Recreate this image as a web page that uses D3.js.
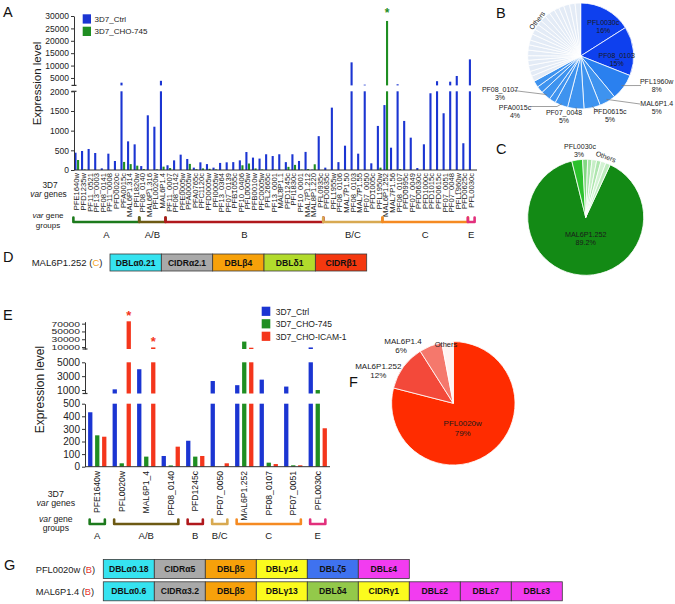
<!DOCTYPE html>
<html><head><meta charset="utf-8">
<script src="https://cdn.jsdelivr.net/npm/d3@7"></script>
<style>body{margin:0;background:#fff}svg{display:block;font-family:"Liberation Sans",Arial,Helvetica,sans-serif}</style>
</head><body><svg id="c" width="675" height="604"></svg>
<script>
// ---------------- DATA ----------------
const genesA = ["PFE1640w","PFD1235w","PF11_0521","PF13_0003","PF08_0141","PF11_0008","PFD0020c","PFA0015c","MAL6P1.314","PFI1820w","PF08_0140","MAL6P1.316","PFL0020w","MAL6P1.4","PF11_0007","PF08_0142","PFE0005w","PFA0005w","PFA0765c","PFC1120c","PFD0005w","PFI0005w","PF13_0364","PF07_0139","PFB1055c","PF10_0406","PFL0005w","PFB0010w","PFC0005w","PFL2665c","PF13_0001","MAL8P1.1","PFD1245c","PFI1830c","PF10_0001","MAL7P1.212","MAL8P1.220","PFL0935c","PFD0635c","PFL1955w","PF08_0106","MAL7P1.50","PF08_0103","MAL7P1.55","PF07_0050","PFD1005c","PFL1950w","MAL6P1.252","MAL7P1.56","PF08_0107","PFD0995c","PF07_0049","PFD0630c","PFD1000c","PFD1015c","PFD0615c","PF07_0051","PF07_0048","PFL1960w","PFD0625c","PFL0030c"];
const ctrlA = [440,483,534,432,42,415,229,3100,728,652, 100,1390,1100,3850, 120,245,390,280,60,195,150,60,180,195,200,245,457,315,290,400,355,400,200,400,230,460,10,860, 60,1585,200,618,11300,415,2300,170,1120, 1650,567,2450,1247,822,50,653,1950,3700,1442,3500,5800,680, 12500];
const cho745A = [254,15,0,0,0,0,0,205,150,110, 25,0,15,85, 50,0,0,155,20,40,30,15,0,0,0,120,165,40,15,0,10,0,80,130,10,25,145,0, 0,0,0,0,0,0,0,0,60, 28000,0,25,0,0,0,0,0,0,0,0,0,0, 0];
const groupNames = ["A","A/B","B","B/C","C","E"];
const groupSizesA = [10,4,24,9,13,1];
const ticksALow = [0,500,1000,1500,2000];
const ticksAHigh = [5000,10000,15000,20000,25000,30000];
const seriesA = ["3D7_Ctrl","3D7_CHO-745"];
const starA = ["MAL6P1.252"];

const pieBNames = ["PFL0030c","PF08_0103","PFL1960w","MAL6P1.4","PFD0615c","PF07_0048","PFA0015c","","PF08_0107","",""];
const pieBValues = [16,15,8,5,5,5,4,2,3,2.1,2];
const pieBOthers = [1.7,1.5,1.8,1.6,1.4,1.7,1.6,1.5,1.9,1.6,1.7,1.5,1.8,1.6,1.7,1.5,1.6,1.8,1.7,1.7];

const pieCNames = ["MAL6P1.252","PFL0030c"];
const pieCValues = [89.2,3.0];
const pieCOthers = [1.4,1.2,1.3,1.2,1.4,1.3];

const domainsD = ["DBLα0.21","CIDRα2.1","DBLβ4","DBLδ1","CIDRβ1"];

const genesE = ["PFE1640w","PFL0020w","MAL6P1_4","PF08_0140","PFD1245c","PF07_0050","MAL6P1.252","PF08_0107","PF07_0051","PFL0030c"];
const ctrlE   = [432,1100,4000,85,206,2300,1700,2500,1500,9000];
const cho745E = [249,27,80,10,80,0,24000,32,11,1000];
const icamE   = [238,76000,9000,159,85,27,8300,21,11,305];
const groupSizesE = [1,3,1,1,3,1];
const seriesE = ["3D7_Ctrl","3D7_CHO-745","3D7_CHO-ICAM-1"];
const ticksELow = [0,100,200,300,400,500];
const ticksEMid = [1000,3000,5000];
const ticksEHigh = [10000,30000,50000,70000];
const starsE = ["PFL0020w","MAL6P1_4"];

const pieFNames = ["PFL0020w","MAL6P1.252","MAL6P1.4","Others"];
const pieFValues = [79,12,6,3];

const domainsG1 = ["DBLα0.18","CIDRα5","DBLβ5","DBLγ14","DBLζ5","DBLε4"];
const domainsG2 = ["DBLα0.6","CIDRα3.2","DBLβ5","DBLγ13","DBLδ4","CIDRγ1","DBLε2","DBLε7","DBLε3"];

// ---------------- STYLE ----------------
const FONT = '"Liberation Sans", Arial, Helvetica, sans-serif';
const BLUE = "#1b35d2", GREEN = "#1f8e22", RED = "#f4361c";
const groupColors = {"A":"#1c7a1c","A/B":"#6d5a14","B":"#b0181c","B/C":"#d8a951","C":"#f58a22","E":"#e2307c"};
const domainColor = d => {
  if (d === "DBLδ4") return "#93c94a";
  if (d.startsWith("DBLα")) return "#36e3f0";
  if (d.startsWith("CIDRα")) return "#a9a9a9";
  if (d.startsWith("DBLβ")) return "#f7a10a";
  if (d.startsWith("DBLγ")) return "#fbfb1e";
  if (d.startsWith("DBLδ")) return "#b2db2c";
  if (d.startsWith("DBLζ")) return "#3f72ef";
  if (d.startsWith("DBLε")) return "#f23cf0";
  if (d.startsWith("CIDRβ")) return "#f4380f";
  if (d.startsWith("CIDRγ")) return "#fbfb1e";
  return "#ccc";
};
const fmt = d3.format("d");

const svg = d3.select("#c");
svg.append("rect").attr("width",675).attr("height",604).attr("fill","#fff");

function txt(g, x, y, s, size, o = {}) {
  const t = g.append("text").attr("x", x).attr("y", y).text(s)
    .attr("font-size", size).attr("fill", o.fill || "#1a1a1a");
  if (o.anchor) t.attr("text-anchor", o.anchor);
  if (o.weight) t.attr("font-weight", o.weight);
  if (o.style) t.attr("font-style", o.style);
  if (o.transform) t.attr("transform", o.transform);
  if (o.dy) t.attr("dy", o.dy);
  return t;
}
function styleAxis(g, fs) {
  g.attr("font-family", FONT).attr("font-size", fs);
  g.selectAll("text").attr("fill", "#222");
  g.selectAll("line,path").attr("stroke", "#333");
}
function breakMark(g, x, y) {
  g.append("line").attr("x1", x - 2.5).attr("x2", x + 2.5).attr("y1", y).attr("y2", y).attr("stroke", "#333").attr("stroke-width", 1.2);
}
function brackets(g, xs, genes, sizes, y, labelY, pad, fs) {
  let idx = 0;
  groupNames.forEach((n, k) => {
    const first = genes[idx], last = genes[idx + sizes[k] - 1];
    const x0 = xs(first) + xs.bandwidth() / 2 - pad, x1 = xs(last) + xs.bandwidth() / 2 + pad;
    g.append("path").attr("d", `M${x0},${y - 4.5}L${x0},${y}L${x1},${y}L${x1},${y - 4.5}`)
      .attr("fill", "none").attr("stroke", groupColors[n]).attr("stroke-width", 2.6).attr("stroke-linejoin", "round").attr("stroke-linecap", "round");
    txt(g, (x0 + x1) / 2, labelY, n, fs, { anchor: "middle" });
    idx += sizes[k];
  });
}
function domainRow(g, names, x0, step, y, h) {
  const xs = d3.scaleBand().domain(d3.range(names.length)).range([x0, x0 + step * names.length]);
  names.forEach((d, i) => {
    g.append("rect").attr("x", xs(i)).attr("y", y).attr("width", xs.bandwidth()).attr("height", h)
      .attr("fill", domainColor(d)).attr("stroke", "#3a3a3a").attr("stroke-width", 0.8);
    txt(g, xs(i) + xs.bandwidth() / 2, y + h / 2 + 3.1, d, 8.6, { anchor: "middle", weight: "bold", fill: "#111" });
  });
}

// ---------------- PANEL A ----------------
const gA = svg.append("g");
const xA = d3.scaleBand().domain(genesA).range([73.5, 474.5]);
const yALow = d3.scaleLinear().domain([0, 2000]).range([170, 91.3]);
const yAHigh = d3.scaleLinear().domain([2000, 30000]).range([85.4, 16]);
const bwA = 2.1;
function barsA(values, off, color) {
  const data = values.map((v, i) => ({ v, g: genesA[i] }));
  const g = gA.append("g").attr("fill", color);
  g.selectAll(null).data(data.filter(d => d.v > 0)).join("rect")
    .attr("x", d => xA(d.g) + xA.bandwidth() / 2 + off - bwA / 2).attr("width", bwA)
    .attr("y", d => yALow(Math.min(d.v, 2000))).attr("height", d => yALow(0) - yALow(Math.min(d.v, 2000)));
  g.selectAll(null).data(data.filter(d => d.v > 2000)).join("rect")
    .attr("x", d => xA(d.g) + xA.bandwidth() / 2 + off - bwA / 2).attr("width", bwA)
    .attr("y", d => yAHigh(d.v)).attr("height", d => yAHigh(2000) - yAHigh(d.v));
}
barsA(ctrlA, -1.3, BLUE);
barsA(cho745A, 1.3, GREEN);
const axA1 = gA.append("g").attr("transform", "translate(74,0)").call(d3.axisLeft(yALow).tickValues(ticksALow).tickFormat(fmt).tickSize(3).tickSizeOuter(0).tickPadding(2));
const axA2 = gA.append("g").attr("transform", "translate(74,0)").call(d3.axisLeft(yAHigh).tickValues(ticksAHigh).tickFormat(fmt).tickSize(3).tickSizeOuter(0).tickPadding(2));
styleAxis(axA1, 8.5); styleAxis(axA2, 8.5);
breakMark(gA, 74, 85.4); breakMark(gA, 74, 91.3);
gA.append("line").attr("x1", 74).attr("x2", 477).attr("y1", 170).attr("y2", 170).attr("stroke", "#333");
txt(gA, 0, 0, "Expression level", 11.5, { anchor: "middle", transform: "translate(40.5,83.5) rotate(-90)" });
genesA.forEach(gn => {
  txt(gA, 0, 0, gn, 7.6, { anchor: "end", transform: `translate(${xA(gn) + xA.bandwidth() / 2 + 2.7},173) rotate(-90)` });
});
starA.forEach(gn => txt(gA, xA(gn) + xA.bandwidth() / 2 + 1.3, 17, "*", 12, { anchor: "middle", fill: GREEN, weight: "bold" }));
[BLUE, GREEN].forEach((c, i) => {
  gA.append("rect").attr("x", 82.7).attr("y", 14.3 + i * 12.4).attr("width", 8.3).attr("height", 9.3).attr("fill", c);
  txt(gA, 94.5, 22 + i * 12.4, seriesA[i], 8);
});
txt(gA, 50, 187.7, "3D7", 8.3, { anchor: "middle" });
txt(gA, 48.5, 197, "", 8.3, { anchor: "middle" }).html('<tspan font-style="italic">var</tspan> genes');
txt(gA, 48, 218.3, "", 8, { anchor: "middle" }).html('<tspan font-style="italic">var</tspan> gene');
txt(gA, 48, 227.6, "groups", 8, { anchor: "middle" });
brackets(gA, xA, genesA, groupSizesA, 222, 237.5, 3.4, 9.5);

// ---------------- PANEL D ----------------
const gD = svg.append("g");
const tD = txt(gD, 31.7, 265.5, "", 9.5);
tD.append("tspan").text("MAL6P1.252 (");
tD.append("tspan").text("C").attr("fill", "#f5a524");
tD.append("tspan").text(")");
domainRow(gD, domainsD, 110, 51.34, 254, 17);

// ---------------- PIE B ----------------
const gB = svg.append("g");
const cB = [580.7, 56], rB = 53;
const bVals = pieBValues.concat(pieBOthers);
const bCols = ["#0e40ee", "#0e40ee", "#2a80ef"].concat(d3.range(pieBValues.length - 3).map(() => "#3e93ef")).concat(pieBOthers.map(() => "#e3ebf6"));
const arcsB = d3.pie().sort(null)(bVals);
const arcB = d3.arc().innerRadius(0).outerRadius(rB);
gB.append("g").attr("transform", `translate(${cB})`).selectAll(null).data(arcsB).join("path")
  .attr("d", arcB).attr("fill", (d, i) => bCols[i]).attr("stroke", "#fff").attr("stroke-width", 0.8);
const lblB = (x, y, a, b, fs) => { txt(gB, x, y, a, fs, { anchor: "middle" }); txt(gB, x, y + 8, b, fs, { anchor: "middle" }); };
lblB(603.3, 24.5, "PFL0030c", "16%", 7);
lblB(616.7, 57.5, "PF08_0103", "15%", 7);
const leader = (g, pts) => g.append("polyline").attr("points", pts.map(p => p.join(",")).join(" ")).attr("fill", "none").attr("stroke", "#777").attr("stroke-width", 0.7);
const pB = (i, f) => { const a = (arcsB[i].startAngle + arcsB[i].endAngle) / 2; return [cB[0] + Math.sin(a) * rB * f, cB[1] - Math.cos(a) * rB * f]; };
leader(gB, [pB(2, 0.95), [641, 85.5]]);
lblB(656.7, 84, "PFL1960w", "8%", 7);
leader(gB, [pB(3, 0.95), [640, 104]]);
lblB(656.7, 106, "MAL6P1.4", "5%", 7);
leader(gB, [pB(4, 0.97), [598, 112]]);
lblB(610, 114.3, "PFD0615c", "5%", 7);
leader(gB, [pB(5, 0.97), [577, 111]]);
lblB(564, 115.2, "PF07_0048", "5%", 7);
leader(gB, [pB(6, 0.97), [557, 106.5], [531, 106.5]]);
lblB(515, 109.5, "PFA0015c", "4%", 7);
leader(gB, [pB(8, 0.97), [513.5, 90.5]]);
lblB(500, 91.8, "PF08_0107", "3%", 7);
txt(gB, 0, 0, "Others", 7, { anchor: "middle", transform: "translate(539,22) rotate(-52)" });

// ---------------- PIE C ----------------
const gC = svg.append("g");
const cC = [585.7, 217.3], rC = 58;
const cVals = pieCValues.concat(pieCOthers);
const cCols = ["#138a15", "#2bc12c", "#82d882", "#a8e4a8", "#c6eec6", "#aee6ae", "#d2f2d2", "#bdebbd"];
const st = 25 * Math.PI / 180;
const arcsC = d3.pie().sort(null).startAngle(st).endAngle(st + 2 * Math.PI)(cVals);
gC.append("g").attr("transform", `translate(${cC})`).selectAll(null).data(arcsC).join("path")
  .attr("d", d3.arc().innerRadius(0).outerRadius(rC)).attr("fill", (d, i) => cCols[i]).attr("stroke", "#fff").attr("stroke-width", 0.8);
txt(gC, 580, 148.5, "PFL0030c", 7, { anchor: "middle" });
txt(gC, 579, 156.5, "3%", 7, { anchor: "middle" });
txt(gC, 0, 0, "Others", 7, { anchor: "middle", transform: "translate(605,159) rotate(20)" });
txt(gC, 585.7, 236.5, "MAL6P1.252", 7.2, { anchor: "middle" });
txt(gC, 585.7, 244.5, "89.2%", 7.2, { anchor: "middle" });

// ---------------- PANEL E ----------------
const gE = svg.append("g");
const xE = d3.scaleBand().domain(genesE).range([85, 330]);
const yELow = d3.scaleLinear().domain([0, 500]).range([466.7, 403.7]);
const yEMid = d3.scaleLinear().domain([500, 5000]).range([393.5, 362.3]);
const yEHigh = d3.scaleLinear().domain([5000, 75000]).range([349, 321.7]);
const bwE = 4.3;
function barsE(values, off, color) {
  const data = values.map((v, i) => ({ v, g: genesE[i] }));
  const g = gE.append("g").attr("fill", color);
  const X = d => xE(d.g) + xE.bandwidth() / 2 + off - bwE / 2;
  g.selectAll(null).data(data.filter(d => d.v > 0)).join("rect").attr("x", X).attr("width", bwE)
    .attr("y", d => yELow(Math.min(d.v, 500))).attr("height", d => yELow(0) - yELow(Math.min(d.v, 500)));
  g.selectAll(null).data(data.filter(d => d.v > 500)).join("rect").attr("x", X).attr("width", bwE)
    .attr("y", d => yEMid(Math.min(d.v, 5000))).attr("height", d => yEMid(500) - yEMid(Math.min(d.v, 5000)));
  g.selectAll(null).data(data.filter(d => d.v > 5000)).join("rect").attr("x", X).attr("width", bwE)
    .attr("y", d => yEHigh(d.v)).attr("height", d => yEHigh(5000) - yEHigh(d.v));
}
barsE(ctrlE, -7, BLUE);
barsE(cho745E, 0, GREEN);
barsE(icamE, 7, RED);
const axE1 = gE.append("g").attr("transform", "translate(85,0)").call(d3.axisLeft(yELow).tickValues(ticksELow).tickFormat(fmt).tickSize(3).tickSizeOuter(0).tickPadding(2));
const axE2 = gE.append("g").attr("transform", "translate(85,0)").call(d3.axisLeft(yEMid).tickValues(ticksEMid).tickFormat(fmt).tickSize(3).tickSizeOuter(0).tickPadding(2));
const axE3 = gE.append("g").attr("transform", "translate(85,0)").call(d3.axisLeft(yEHigh).tickValues(ticksEHigh).tickFormat(fmt).tickSize(3).tickSizeOuter(0).tickPadding(2));
styleAxis(axE1, 10); styleAxis(axE2, 10.3); styleAxis(axE3, 7);
axE3.selectAll("text").attr("textLength", 28.5).attr("lengthAdjust", "spacingAndGlyphs").attr("dy", "0.36em");
breakMark(gE, 85, 349); breakMark(gE, 85, 393.5);
gE.append("line").attr("x1", 85).attr("x2", 330).attr("y1", 466.7).attr("y2", 466.7).attr("stroke", "#333");
txt(gE, 0, 0, "Expression level", 12, { anchor: "middle", transform: "translate(43.5,389.5) rotate(-90)" });
genesE.forEach(gn => {
  txt(gE, 0, 0, gn, 8.6, { anchor: "end", transform: `translate(${xE(gn) + xE.bandwidth() / 2 + 3},471) rotate(-90)` });
});
starsE.forEach(gn => {
  const v = icamE[genesE.indexOf(gn)];
  txt(gE, xE(gn) + xE.bandwidth() / 2 + 7, yEHigh(v) - 1.5, "*", 13, { anchor: "middle", fill: RED, weight: "bold" });
});
[BLUE, GREEN, RED].forEach((c, i) => {
  gE.append("rect").attr("x", 261.7).attr("y", 306.7 + i * 12.5).attr("width", 8.6).attr("height", 9.2).attr("fill", c);
  txt(gE, 275.7, 314.5 + i * 12.5, seriesE[i], 8.5);
});
txt(gE, 55.8, 496.5, "3D7", 8.8, { anchor: "middle" });
txt(gE, 55.8, 505.8, "", 8.8, { anchor: "middle" }).html('<tspan font-style="italic">var</tspan> genes');
txt(gE, 55.8, 521.8, "", 8.6, { anchor: "middle" }).html('<tspan font-style="italic">var</tspan> gene');
txt(gE, 55.8, 531.4, "groups", 8.6, { anchor: "middle" });
brackets(gE, xE, genesE, groupSizesE, 524, 539, 7.6, 9.5);

// ---------------- PIE F ----------------
const gF = svg.append("g");
const cF = [453.3, 403.3], rF = 61.7;
const fCols = ["#ff2c00", "#f3493a", "#f5786c", "#fff3f1"];
const arcsF = d3.pie().sort(null)(pieFValues);
gF.append("g").attr("transform", `translate(${cF})`).selectAll(null).data(arcsF).join("path")
  .attr("d", d3.arc().innerRadius(0).outerRadius(rF)).attr("fill", (d, i) => fCols[i]).attr("stroke", "#fff").attr("stroke-width", 0.8);
txt(gF, 462.7, 426, "PFL0020w", 8, { anchor: "middle" });
txt(gF, 462.7, 435.5, "79%", 8, { anchor: "middle" });
txt(gF, 378.3, 368.8, "MAL6P1.252", 8, { anchor: "middle" });
txt(gF, 378.3, 378.2, "12%", 8, { anchor: "middle" });
txt(gF, 403, 343.5, "MAL6P1.4", 8, { anchor: "middle" });
txt(gF, 401, 352.8, "6%", 8, { anchor: "middle" });
txt(gF, 446, 347, "Others", 7.5, { anchor: "middle" });

// ---------------- PANEL G ----------------
const gG = svg.append("g");
const tG1 = txt(gG, 35.7, 572.5, "", 9.3);
tG1.append("tspan").text("PFL0020w (");
tG1.append("tspan").text("B").attr("fill", "#e8312a");
tG1.append("tspan").text(")");
const tG2 = txt(gG, 35.7, 595, "", 9.3);
tG2.append("tspan").text("MAL6P1.4 (");
tG2.append("tspan").text("B").attr("fill", "#e8312a");
tG2.append("tspan").text(")");
domainRow(gG, domainsG1, 103.3, 51, 559.5, 19);
domainRow(gG, domainsG2, 103.3, 51, 581.8, 19);

// ---------------- PANEL LETTERS ----------------
[["A", 3, 17], ["B", 496, 17.5], ["C", 496, 153.5], ["D", 3, 262], ["E", 3, 320], ["F", 349, 387], ["G", 4, 570]]
  .forEach(([l, x, y]) => txt(svg, x, y, l, 14.5, { fill: "#111" }));
</script></body></html>
